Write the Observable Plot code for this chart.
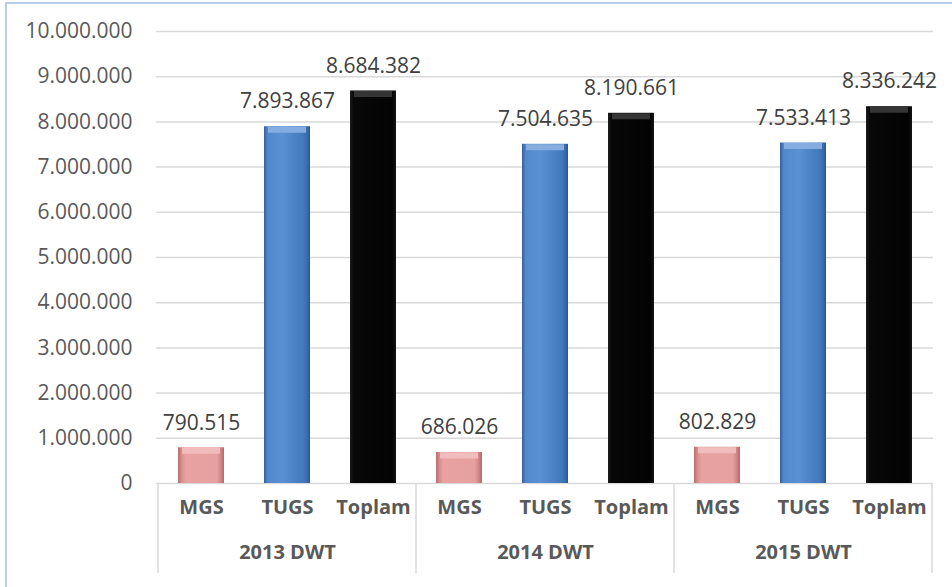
<!DOCTYPE html>
<html>
<head>
<meta charset="utf-8">
<script src="https://cdn.jsdelivr.net/npm/d3@7"></script>
<script src="https://cdn.jsdelivr.net/npm/@observablehq/plot@0.6"></script>
<style>
  html, body { margin: 0; padding: 0; background: #fff; }
  #wrap { position: relative; width: 952px; height: 587px; overflow: hidden; }
  #frame { position: absolute; left: 5px; top: 2px; width: 1000px; height: 700px;
           border-left: 2px solid #b9cde9; border-top: 2px solid #b9cde9; pointer-events: none; }
  #chart { position: absolute; left: 0; top: 0; }
</style>
</head>
<body>
<div id="wrap"><div id="chart"></div><div id="frame"></div></div>
<script>
const groups = ["2013 DWT", "2014 DWT", "2015 DWT"];
const series = ["MGS", "TUGS", "Toplam"];
const mgsValues = [790515, 686026, 802829];
const tugsValues = [7893867, 7504635, 7533413];
const toplamValues = [8684382, 8190661, 8336242];
const yTicks = [0, 1000000, 2000000, 3000000, 4000000, 5000000, 6000000, 7000000, 8000000, 9000000, 10000000];

const seriesValues = {MGS: mgsValues, TUGS: tugsValues, Toplam: toplamValues};
const rows = [];
groups.forEach((g, gi) => series.forEach(s => rows.push({group: g, cat: s, key: g + "|" + s, value: seriesValues[s][gi]})));
const keys = rows.map(d => d.key);

const fmt = d3.formatLocale({decimal: ",", thousands: ".", grouping: [3], currency: ["", ""]}).format(",d");

const bevel = {MGS: "#f1bcbc", TUGS: "#85ade0", Toplam: "#353535"};

const marks = [
  Plot.ruleY(yTicks, {stroke: "#d9d9d9", strokeWidth: 1.5})
];
series.forEach(s => {
  const sub = rows.filter(d => d.cat === s);
  marks.push(Plot.barY(sub, {x: "key", y: "value", fill: `url(#grad-${s})`}));
  marks.push(Plot.tickY(sub, {x: "key", y: "value", stroke: bevel[s], strokeWidth: 6, dy: 3, insetLeft: 4, insetRight: 4}));
});
marks.push(
  Plot.text(rows, {x: "key", y: "value", text: d => fmt(d.value), dy: -25, fill: "#404040", fontSize: 21}),
  Plot.text(rows, {x: "key", text: "cat", frameAnchor: "bottom", dy: 30, fill: "#595959", fontSize: 20, fontWeight: "bold"}),
  Plot.text(groups, {x: g => g + "|TUGS", text: g => g, frameAnchor: "bottom", dy: 75, fill: "#595959", fontSize: 20, fontWeight: "bold"})
);

const chart = Plot.plot({
  width: 952,
  height: 587,
  marginLeft: 156,
  marginRight: 19,
  marginTop: 31,
  marginBottom: 104,
  style: {fontFamily: "'Open Sans', sans-serif", fontSize: "21px", color: "#595959", background: "transparent"},
  x: {type: "band", domain: keys, paddingInner: 0.467, paddingOuter: 0.2335, axis: null},
  y: {domain: [0, 10000000], ticks: yTicks, tickFormat: fmt, tickSize: 0, tickPadding: 24, label: null},
  marks
});

document.getElementById("chart").appendChild(chart);

const svg = d3.select(chart);
const defs = svg.insert("defs", ":first-child");
const gradStops = {
  MGS: [[0, "#b96d6d"], [0.07, "#d68b8b"], [0.16, "#e8a2a2"], [0.84, "#e6a0a0"], [0.93, "#d18686"], [1, "#b56868"]],
  TUGS: [[0, "#335f98"], [0.08, "#5288cc"], [0.4, "#5a91d4"], [0.85, "#4279bd"], [0.94, "#3a6cab"], [1, "#2c5488"]],
  Toplam: [[0, "#1c1c1c"], [0.08, "#080808"], [0.92, "#030303"], [1, "#151515"]]
};
series.forEach(s => {
  const lg = defs.append("linearGradient").attr("id", `grad-${s}`).attr("x1", 0).attr("x2", 1).attr("y1", 0).attr("y2", 0);
  gradStops[s].forEach(([o, c]) => lg.append("stop").attr("offset", o).attr("stop-color", c));
});

// category table lines below the axis, derived from the x band scale
const xs = chart.scale("x");
const ys = chart.scale("y");
const y0 = ys.apply(0);
const half = (xs.step - xs.bandwidth) / 2;
const bounds = groups.map(g => xs.apply(g + "|" + series[0]) - half);
const lastKey = groups[groups.length - 1] + "|" + series[series.length - 1];
bounds.push(xs.apply(lastKey) + xs.bandwidth + half);
svg.append("g").selectAll("line").data(bounds).join("line")
  .attr("x1", d => d).attr("x2", d => d)
  .attr("y1", y0).attr("y2", y0 + 90)
  .attr("stroke", "#d9d9d9").attr("stroke-width", 1.5);
</script>
</body>
</html>
